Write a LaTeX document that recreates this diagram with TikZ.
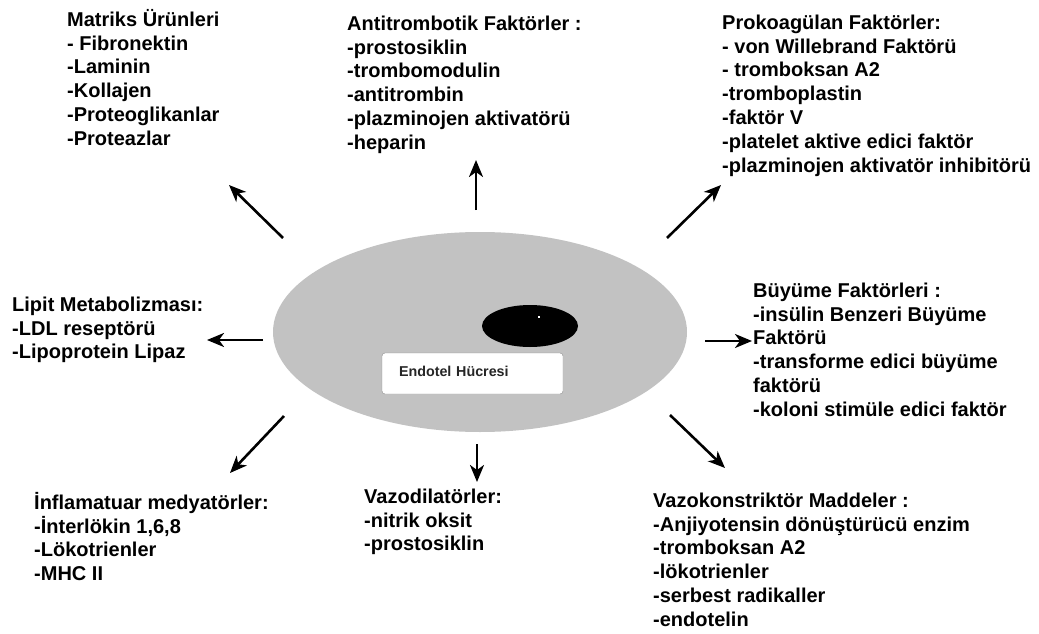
\documentclass[tikz,border=0pt]{standalone}
\usepackage{fontspec}
\setmainfont{Liberation Sans}
\usetikzlibrary{shapes.geometric,arrows.meta}
\newcommand{\ust}{\rule{0pt}{19pt}}

\begin{document}
\begin{tikzpicture}[x=1pt, y=-1pt, every node/.style={inner sep=0pt}]

\tikzstyle{yazi}=[anchor=north west, align=left, font=\bfseries\fontsize{20}{23.8}\selectfont]
\tikzstyle{ok}=[line width=2.6pt, -{Stealth[length=17pt,width=14pt,inset=5pt]}]
\tikzstyle{hucre}=[ellipse, fill=black!24, minimum width=414pt, minimum height=200pt]
\tikzstyle{kutu}=[draw=black!45, fill=white, rounded corners=3pt, minimum width=181pt, minimum height=41pt,
  text width=147pt, inner xsep=17pt, align=left, text height=10pt, text depth=5pt,
  font=\bfseries\fontsize{14.3}{16}\selectfont, text=black!85]

\fill[white] (0,0) rectangle (1039,634);
\useasboundingbox (0,0) rectangle (1039,634);

\node[hucre] (hucre) at (480,332) {};
\node[ellipse, fill=black, minimum width=96pt, minimum height=42pt] (cekirdek) at (530,326) {};
\node[fill=white, minimum size=2.5pt] (nokta) at (539,317) {};
\node[kutu] (etiket) at (472.5,373.5) {Endotel Hücresi};

\node[yazi] (matriks) at (67,7) {\ust Matriks Ürünleri\\
- Fibronektin\\
-Laminin\\
-Kollajen\\
-Proteoglikanlar\\
-Proteazlar};
\node[yazi] (antitrombotik) at (347,11) {\ust Antitrombotik Faktörler :\\
-prostosiklin\\
-trombomodulin\\
-antitrombin\\
-plazminojen aktivatörü\\
-heparin};
\node[yazi] (prokoagulan) at (722,10) {\ust Prokoagülan Faktörler:\\
- von Willebrand Faktörü\\
- tromboksan A2\\
-tromboplastin\\
-faktör V\\
-platelet aktive edici faktör\\
-plazminojen aktivatör inhibitörü};
\node[yazi] (lipit) at (12,292) {\ust Lipit Metabolizması:\\
-LDL reseptörü\\
-Lipoprotein Lipaz};
\node[yazi] (buyume) at (753,278) {\ust Büyüme Faktörleri :\\
-insülin Benzeri Büyüme\\
Faktörü\\
-transforme edici büyüme\\
faktörü\\
-koloni stimüle edici faktör};
\node[yazi] (inflamatuar) at (34,490) {\ust İnflamatuar medyatörler:\\
-İnterlökin 1,6,8\\
-Lökotrienler\\
-MHC II};
\node[yazi] (vazodilator) at (364,484) {\ust Vazodilatörler:\\
-nitrik oksit\\
-prostosiklin};
\node[yazi] (vazokonstriktor) at (653,488) {\ust Vazokonstriktör Maddeler :\\
-Anjiyotensin dönüştürücü enzim\\
-tromboksan A2\\
-lökotrienler\\
-serbest radikaller\\
-endotelin};

\coordinate (mat1) at (283,238); \coordinate (mat2) at (229,185);
\coordinate (ant1) at (476,210); \coordinate (ant2) at (476,160);
\coordinate (pro1) at (667,238); \coordinate (pro2) at (721,185);
\coordinate (lip1) at (263,340); \coordinate (lip2) at (207,340);
\coordinate (buy1) at (705,341); \coordinate (buy2) at (752,341);
\coordinate (inf1) at (284,416); \coordinate (inf2) at (230,473);
\coordinate (vd1) at (477,444); \coordinate (vd2) at (477,482);
\coordinate (vk1) at (670,415); \coordinate (vk2) at (725,468);

\draw[ok] (mat1) -- (mat2);
\draw[ok] (ant1) -- (ant2);
\draw[ok] (pro1) -- (pro2);
\draw[ok] (lip1) -- (lip2);
\draw[ok] (buy1) -- (buy2);
\draw[ok] (inf1) -- (inf2);
\draw[ok] (vd1) -- (vd2);
\draw[ok] (vk1) -- (vk2);
\end{tikzpicture}
\end{document}
